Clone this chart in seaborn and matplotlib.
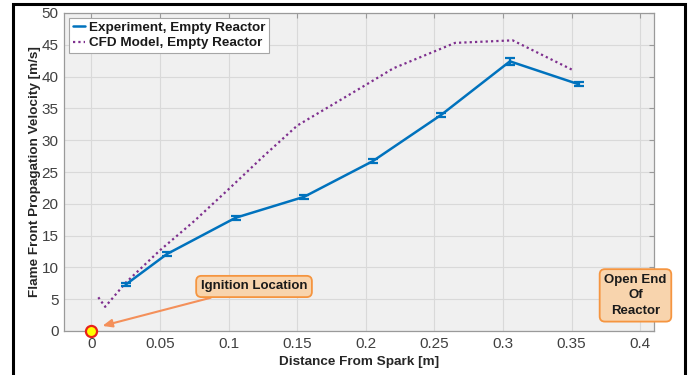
import numpy as np
import pandas as pd
import matplotlib
matplotlib.use("Agg")
import matplotlib.pyplot as plt
from matplotlib.patches import Rectangle
import seaborn as sns

# Measured flame front speed along the empty reactor
exp_distance = [0.025, 0.055, 0.105, 0.155, 0.205, 0.255, 0.305, 0.355]
exp_velocity = [7.3, 12.1, 17.8, 21.1, 26.7, 34.0, 42.4, 38.8]
exp_error = [0.3, 0.3, 0.3, 0.3, 0.3, 0.3, 0.5, 0.3]

# CFD prediction for the same geometry
cfd_distance = [0.005, 0.010, 0.025, 0.050, 0.075, 0.100, 0.125, 0.150,
                0.175, 0.200, 0.220, 0.265, 0.307, 0.352]
cfd_velocity = [5.3, 3.8, 7.6, 12.7, 17.3, 22.3, 27.4, 32.3,
                35.5, 38.7, 41.3, 45.3, 45.7, 40.9]

x_ticks = [0, 0.05, 0.1, 0.15, 0.2, 0.25, 0.3, 0.35, 0.4]
x_tick_labels = ["0", "0.05", "0.1", "0.15", "0.2", "0.25", "0.3", "0.35", "0.4"]
y_ticks = list(range(0, 51, 5))

exp_label = "Experiment, Empty Reactor"
cfd_label = "CFD Model, Empty Reactor"

exp_df = pd.DataFrame({"distance": exp_distance, "velocity": exp_velocity})
cfd_df = pd.DataFrame({"distance": cfd_distance, "velocity": cfd_velocity})

sns.set_theme(style="white")
plt.rcParams["font.family"] = ["Liberation Sans", "DejaVu Sans"]

blue = "#0072BD"
purple = "#7E2F8E"
tick_gray = "#404040"

fig = plt.figure(figsize=(6.91, 3.75), dpi=100)
ax = fig.add_axes([64 / 691, 44 / 375, 590 / 691, 318 / 375])
ax.set_facecolor("#f0f0f0")

sns.lineplot(data=exp_df, x="distance", y="velocity", ax=ax, color=blue,
             linewidth=1.8, label=exp_label, zorder=3)
ax.errorbar(exp_distance, exp_velocity, yerr=exp_error, fmt="none",
            ecolor=blue, elinewidth=1.6, capsize=3.4, capthick=1.6, zorder=3)
sns.lineplot(data=cfd_df, x="distance", y="velocity", ax=ax, color=purple,
             linewidth=1.6, linestyle=(0, (1, 1.4)), label=cfd_label, zorder=2)

# Spark location
ax.plot([0], [0], marker="o", markersize=8, markerfacecolor="#ffff00",
        markeredgecolor="#e8221a", markeredgewidth=1.6, linestyle="none",
        clip_on=False, zorder=5)

ax.set_xlim(-0.02, 0.41)
ax.set_ylim(0, 50)
ax.set_xticks(x_ticks)
ax.set_xticklabels(x_tick_labels)
ax.set_yticks(y_ticks)
ax.grid(True, color="#d9d9d9", linewidth=0.8)
ax.set_axisbelow(True)
ax.tick_params(axis="both", which="both", direction="in", length=3.5,
               width=0.8, color="#9a9a9a", labelsize=11, labelcolor=tick_gray,
               top=True, right=True, pad=4)
for sp in ax.spines.values():
    sp.set_color("#9a9a9a")
    sp.set_linewidth(0.9)

ax.set_xlabel("Distance From Spark [m]", fontsize=9.7, fontweight="bold",
              color="#262626", labelpad=4)
ax.set_ylabel("Flame Front Propagation Velocity [m/s]", fontsize=9.7,
              fontweight="bold", color="#262626", labelpad=0.5)

leg = ax.legend(loc="upper left", fontsize=9.7, frameon=True, fancybox=False,
                handlelength=0.9, handletextpad=0.3, borderpad=0.25,
                labelspacing=0.2, borderaxespad=0.4)
for t in leg.get_texts():
    t.set_fontweight("bold")
    t.set_color("#1a1a1a")
leg.get_frame().set_edgecolor("#a6a6a6")
leg.get_frame().set_linewidth(0.8)
leg.get_frame().set_facecolor("white")
leg.get_frame().set_alpha(1)

box_style = dict(boxstyle="round,pad=0.35,rounding_size=0.4",
                 facecolor="#f8d4ad", edgecolor="#f59540", linewidth=1.3)
ax.annotate("Ignition Location", xy=(0.008, 0.8), xytext=(0.1185, 7.0),
            fontsize=9.5, fontweight="bold", color="#1a1a1a",
            ha="center", va="center", bbox=box_style,
            arrowprops=dict(arrowstyle="-|>,head_length=0.6,head_width=0.25",
                            color="#f4905a", linewidth=1.5,
                            shrinkA=0, shrinkB=0), zorder=6)
ax.text(0.3965, 5.6, "Open End\nOf\nReactor", fontsize=9.5, fontweight="bold",
        color="#1a1a1a", ha="center", va="center", linespacing=1.4,
        bbox=box_style, clip_on=False, zorder=6)

# Black frame around the figure
fig.patches.append(Rectangle((13 / 691, -0.1), 672 / 691, 1.1 - 4 / 375,
                             transform=fig.transFigure, fill=False,
                             edgecolor="black", linewidth=2.2, zorder=10))

fig.savefig("out.png", dpi=100)
